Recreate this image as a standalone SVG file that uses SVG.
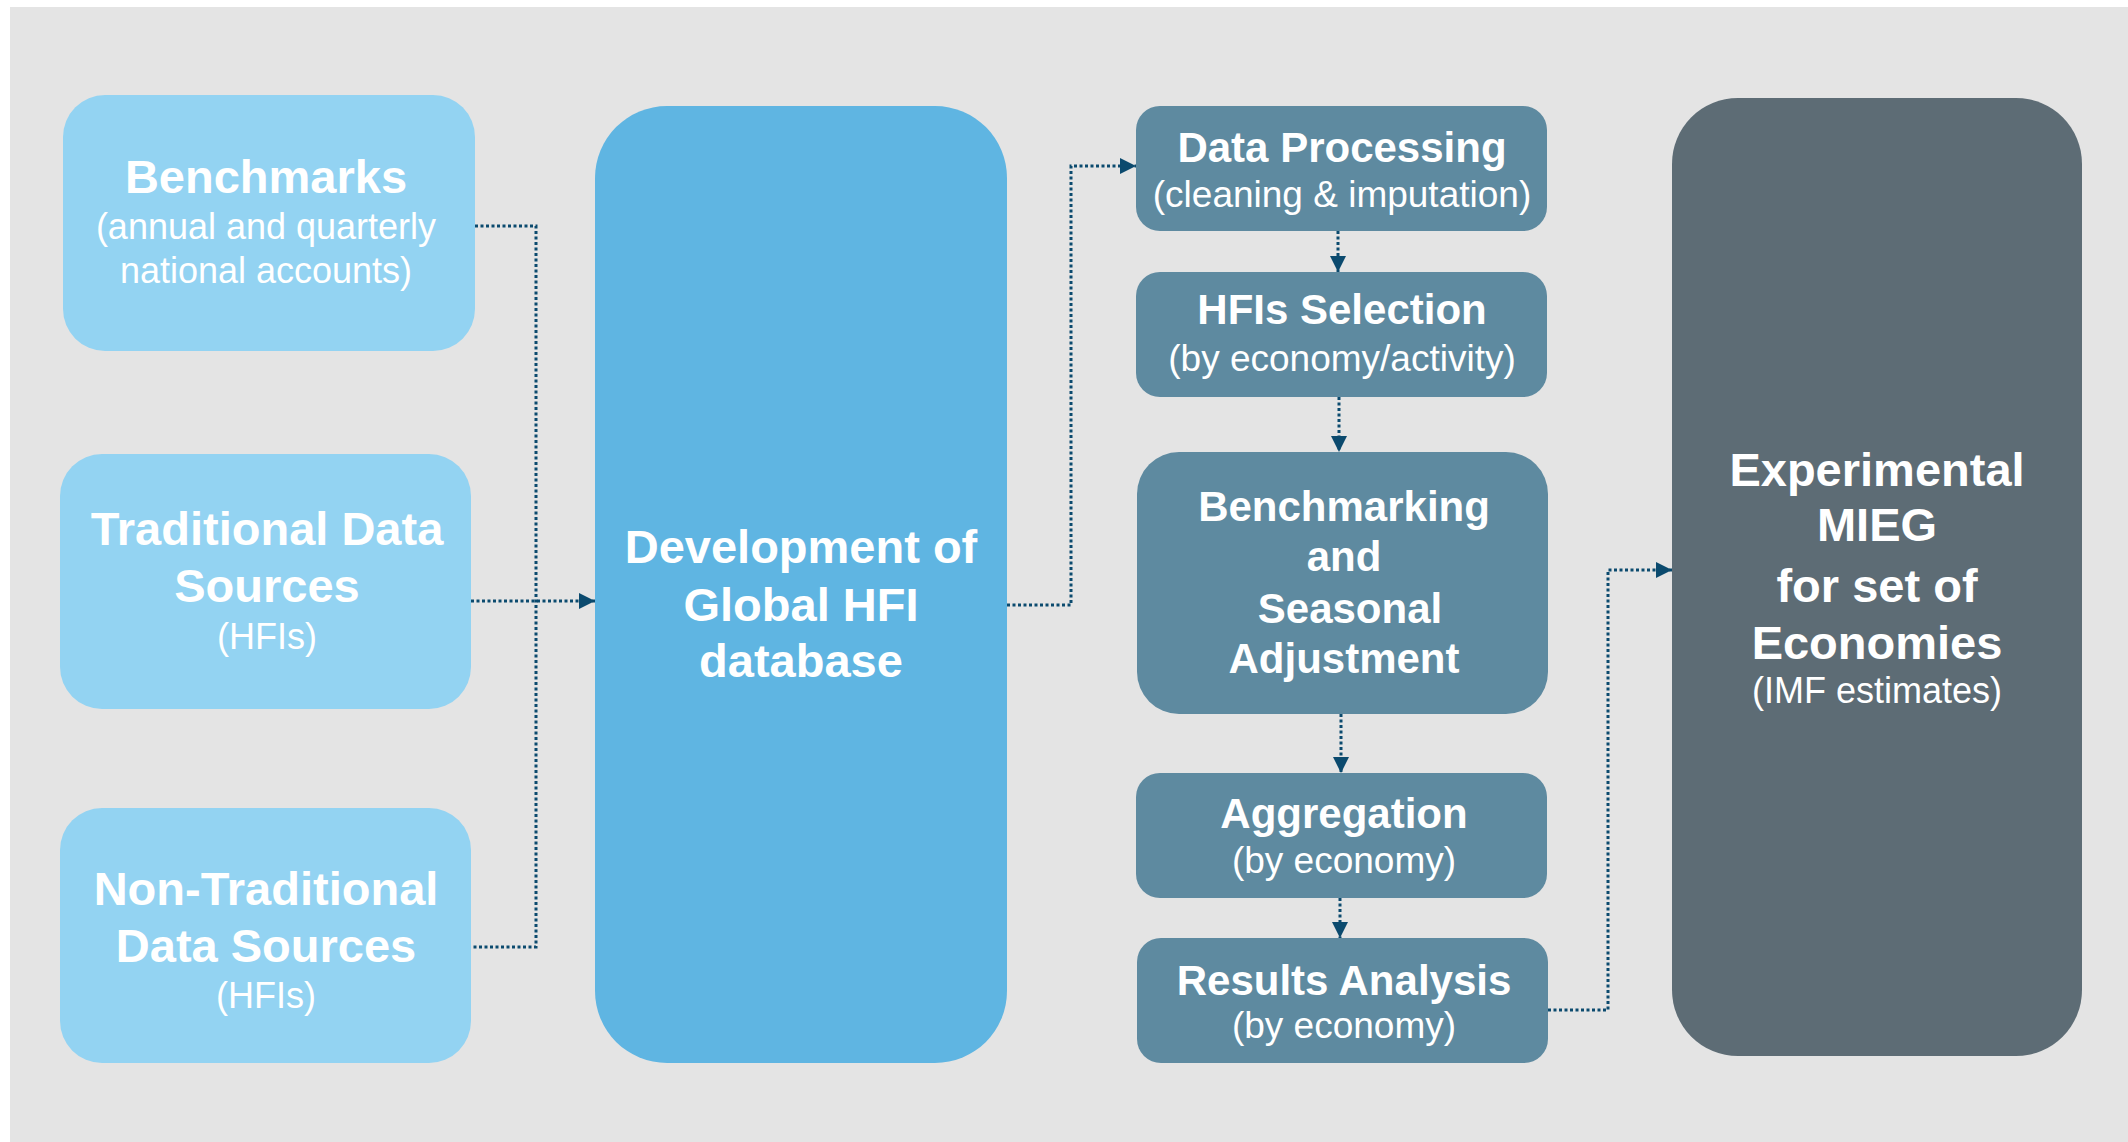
<svg xmlns="http://www.w3.org/2000/svg" width="2128" height="1142" viewBox="0 0 2128 1142">
  <defs>
    <marker id="arr" markerUnits="userSpaceOnUse" markerWidth="16" markerHeight="16" refX="16" refY="8" orient="auto">
      <path d="M0,0 L16,8 L0,16 z" fill="#0b4a6e"/>
    </marker>
    <style>
      text { font-family: "Liberation Sans", Arial, sans-serif; fill: #ffffff; text-anchor: middle; }
      .t47 { font-size: 47px; font-weight: bold; }
      .t42 { font-size: 42px; font-weight: bold; }
      .s36 { font-size: 36px; }
      .s37 { font-size: 37px; }
      .light { fill: #93d3f2; }
      .mid { fill: #5fb5e2; }
      .proc { fill: #5e8aa0; }
      .dark { fill: #5d6c75; }
      .conn { fill: none; stroke: #0b4a6e; stroke-width: 3; stroke-dasharray: 3 2.5; }
    </style>
  </defs>

  <rect x="10" y="7" width="2118" height="1135" fill="#e4e4e4"/>

  <g id="connectors">
    <path class="conn" d="M475 226 H536 V947 H471"/>
    <path class="conn" d="M471 601 H595" marker-end="url(#arr)"/>
    <path class="conn" d="M1007 605 H1071 V166 H1136" marker-end="url(#arr)"/>
    <path class="conn" d="M1338 231 V272" marker-end="url(#arr)"/>
    <path class="conn" d="M1339 397 V452" marker-end="url(#arr)"/>
    <path class="conn" d="M1341 714 V773" marker-end="url(#arr)"/>
    <path class="conn" d="M1340 898 V938" marker-end="url(#arr)"/>
    <path class="conn" d="M1548 1010 H1608 V570 H1672" marker-end="url(#arr)"/>
  </g>

  <g id="benchmarks">
    <rect class="light" x="63" y="95" width="412" height="256" rx="42" ry="42"/>
    <text class="t47" x="266" y="193">Benchmarks</text>
    <text class="s36" x="266" y="239">(annual and quarterly</text>
    <text class="s36" x="266" y="283">national accounts)</text>
  </g>

  <g id="traditional">
    <rect class="light" x="60" y="454" width="411" height="255" rx="42" ry="42"/>
    <text class="t47" x="267" y="545">Traditional Data</text>
    <text class="t47" x="267" y="602">Sources</text>
    <text class="s36" x="267" y="649">(HFIs)</text>
  </g>

  <g id="nontraditional">
    <rect class="light" x="60" y="808" width="411" height="255" rx="42" ry="42"/>
    <text class="t47" x="266" y="905">Non-Traditional</text>
    <text class="t47" x="266" y="962">Data Sources</text>
    <text class="s36" x="266" y="1008">(HFIs)</text>
  </g>

  <g id="development">
    <rect class="mid" x="595" y="106" width="412" height="957" rx="72" ry="72"/>
    <text class="t47" x="801" y="563">Development of</text>
    <text class="t47" x="801" y="621">Global HFI</text>
    <text class="t47" x="801" y="677">database</text>
  </g>

  <g id="dataprocessing">
    <rect class="proc" x="1136" y="106" width="411" height="125" rx="24" ry="24"/>
    <text class="t42" x="1342" y="162">Data Processing</text>
    <text class="s37" x="1342" y="207">(cleaning &amp; imputation)</text>
  </g>

  <g id="hfiselection">
    <rect class="proc" x="1136" y="272" width="411" height="125" rx="24" ry="24"/>
    <text class="t42" x="1342" y="324">HFIs Selection</text>
    <text class="s37" x="1342" y="371">(by economy/activity)</text>
  </g>

  <g id="benchmarking">
    <rect class="proc" x="1137" y="452" width="411" height="262" rx="42" ry="42"/>
    <text class="t42" x="1344" y="521">Benchmarking</text>
    <text class="t42" x="1344" y="571">and</text>
    <text class="t42" x="1350" y="623">Seasonal</text>
    <text class="t42" x="1344" y="673">Adjustment</text>
  </g>

  <g id="aggregation">
    <rect class="proc" x="1136" y="773" width="411" height="125" rx="24" ry="24"/>
    <text class="t42" x="1344" y="828">Aggregation</text>
    <text class="s37" x="1344" y="873">(by economy)</text>
  </g>

  <g id="results">
    <rect class="proc" x="1137" y="938" width="411" height="125" rx="24" ry="24"/>
    <text class="t42" x="1344" y="995">Results Analysis</text>
    <text class="s37" x="1344" y="1038">(by economy)</text>
  </g>

  <g id="experimental">
    <rect class="dark" x="1672" y="98" width="410" height="958" rx="66" ry="66"/>
    <text class="t47" x="1877" y="486">Experimental</text>
    <text class="t47" x="1877" y="541">MIEG</text>
    <text class="t47" x="1877" y="602">for set of</text>
    <text class="t47" x="1877" y="659">Economies</text>
    <text class="s36" x="1877" y="703">(IMF estimates)</text>
  </g>
</svg>
